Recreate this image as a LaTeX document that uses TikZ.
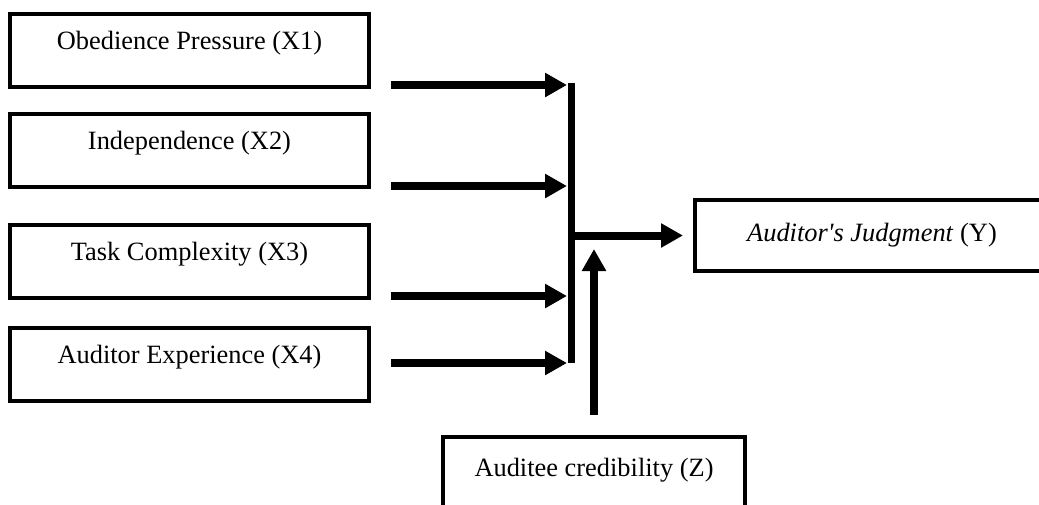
\documentclass[tikz,border=0pt]{standalone}
\usepackage{fontspec}
\setmainfont{Liberation Serif}
\usetikzlibrary{positioning,calc,arrows.meta}
\tikzset{
  var/.style={rectangle, draw=black, line width=2pt, minimum width=179.5pt, minimum height=36.5pt, inner sep=0pt, text centered, font=\fontsize{13.2}{16}\selectfont},
  varup/.style={var, text height=9pt, text depth=9.7pt},
  arr/.style={line width=4pt, -{Triangle[length=11pt,width=11.5pt]}},
  bar/.style={line width=3.5pt}
}
\begin{document}
\begin{tikzpicture}[x=0.5pt, y=-0.5pt]
	\useasboundingbox (0,0) rectangle (1039,504);
	\node[varup] (x1) at (189.5,50.5) {Obedience Pressure (X1)};
	\node[varup, below=11.5pt of x1] (x2) {Independence (X2)};
	\node[varup, below=17pt of x2] (x3) {Task Complexity (X3)};
	\node[varup, below=13pt of x3] (x4) {Auditor Experience (X4)};
	\node[var, minimum width=177pt, minimum height=35.5pt] (y) at (872,235.5) {\textit{Auditor\textquotesingle s Judgment} (Y)};
	\node[var, minimum width=151pt, text height=9pt, text depth=5.8pt] (z) at (594,473.5) {Auditee credibility (Z)};
	
	\coordinate (jtop) at (571,83);
	\coordinate (jbot) at (571,363);
	\draw[bar] (jtop) -- (jbot);
	
	\draw[arr, shorten >=2pt] ([shift={(10pt,2pt)}]x1.south east) coordinate (s1) -- (s1 -| jtop);
	\draw[arr, shorten >=2pt] ([shift={(10pt,1.5pt)}]x2.south east) coordinate (s2) -- (s2 -| jtop);
	\draw[arr, shorten >=2pt] ([shift={(10pt,2pt)}]x3.south east) coordinate (s3) -- (s3 -| jtop);
	\draw[arr, shorten >=2pt] ([shift={(10pt,0.75pt)}]x4.east) coordinate (s4) -- (s4 -| jtop);
	
	\draw[arr, shorten >=5pt] (jtop |- y.west) -- (y.west);
	\draw[arr] ([yshift=10pt]z.north) -- ($(z.north |- y.west)+(0,13.5)$);
	
\end{tikzpicture}
\end{document}
